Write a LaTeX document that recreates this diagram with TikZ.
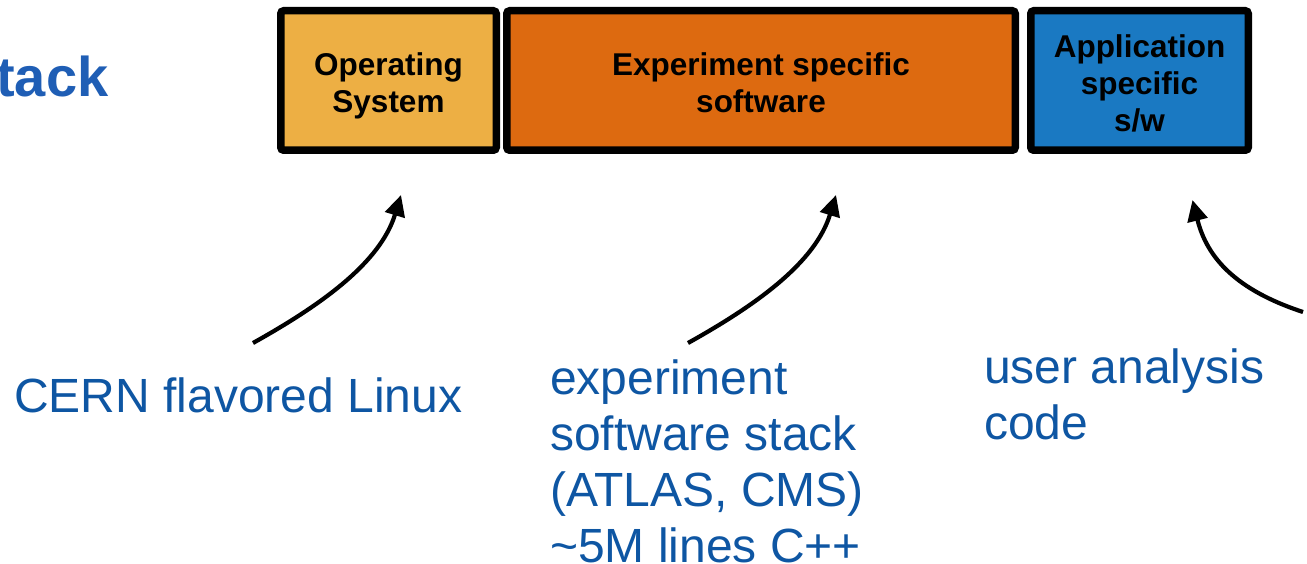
\documentclass[tikz,border=0pt]{standalone}
\usepackage{fontspec}
\setmainfont{Liberation Sans}
\usetikzlibrary{arrows.meta}

\definecolor{titleblue}{HTML}{1F5EB5}
\definecolor{labelblue}{HTML}{0E56A3}
\definecolor{osfill}{HTML}{EDAF44}
\definecolor{expfill}{HTML}{DD6A10}
\definecolor{appfill}{HTML}{1A79C2}

\tikzset{
  layer/.style={draw=black, line width=7.5pt, rounded corners=3pt,
    minimum height=139.5pt, inner sep=0pt},
  layertext/.style={align=center, text=black, inner sep=0pt,
    font=\fontsize{31.5}{37}\selectfont\bfseries},
  note/.style={anchor=base west, align=left, inner sep=0pt, text=labelblue,
    font=\fontsize{48}{56}\selectfont},
  pointer/.style={line width=4.2pt, -{Triangle[length=21pt,width=20pt]}}
}

\begin{document}
\begin{tikzpicture}[x=1pt,y=-1pt]
\useasboundingbox (0,0) rectangle (1307,564);

% heading fragment at the left edge
\node[anchor=base east, inner sep=0pt, text=titleblue,
      font=\fontsize{56}{60}\selectfont\bfseries] (title) at (108.5,96.7) {tack};

% the three layers of the stack
\node[layer, fill=osfill,  minimum width=215.5pt] (os)  at (388.5,80.5)  {};
\node[layer, fill=expfill, minimum width=508.5pt] (exp) at (761,80.5)    {};
\node[layer, fill=appfill, minimum width=217.5pt] (app) at (1139.5,80.5) {};

\node[layertext, yshift=-5pt]   (ostext)  at (os.center)  {Operating\\System};
\node[layertext, yshift=-2pt]   (exptext) at (exp.center) {Experiment specific\\software};
\node[layertext, yshift=-3pt]   (apptext) at (app.center) {Application\\specific\\s/w};

% explanatory notes (anchored at the baseline of their last line)
\node[note] (osnote)  at (14,412.7) {CERN flavored Linux};
\node[note] (expnote) at (550,562)  {experiment\\software stack\\(ATLAS, CMS)\\\textasciitilde 5M lines C++};
\node[note] (appnote) at (984,439)  {user analysis\\code};

% arrow end points
\coordinate (t1) at (253,343);
\coordinate (h1) at (401,195);
\coordinate (t2) at (688,343);
\coordinate (h2) at (836,195);
\coordinate (t3) at (1303,312);
\coordinate (h3) at (1192.5,200);

\draw[pointer] (t1) .. controls (323,304) and (380.5,262) .. (h1);
\draw[pointer] (t2) .. controls (758,304) and (815.5,262) .. (h2);
\draw[pointer] (t3) .. controls (1236,290) and (1207,258) .. (h3);
\end{tikzpicture}
\end{document}
